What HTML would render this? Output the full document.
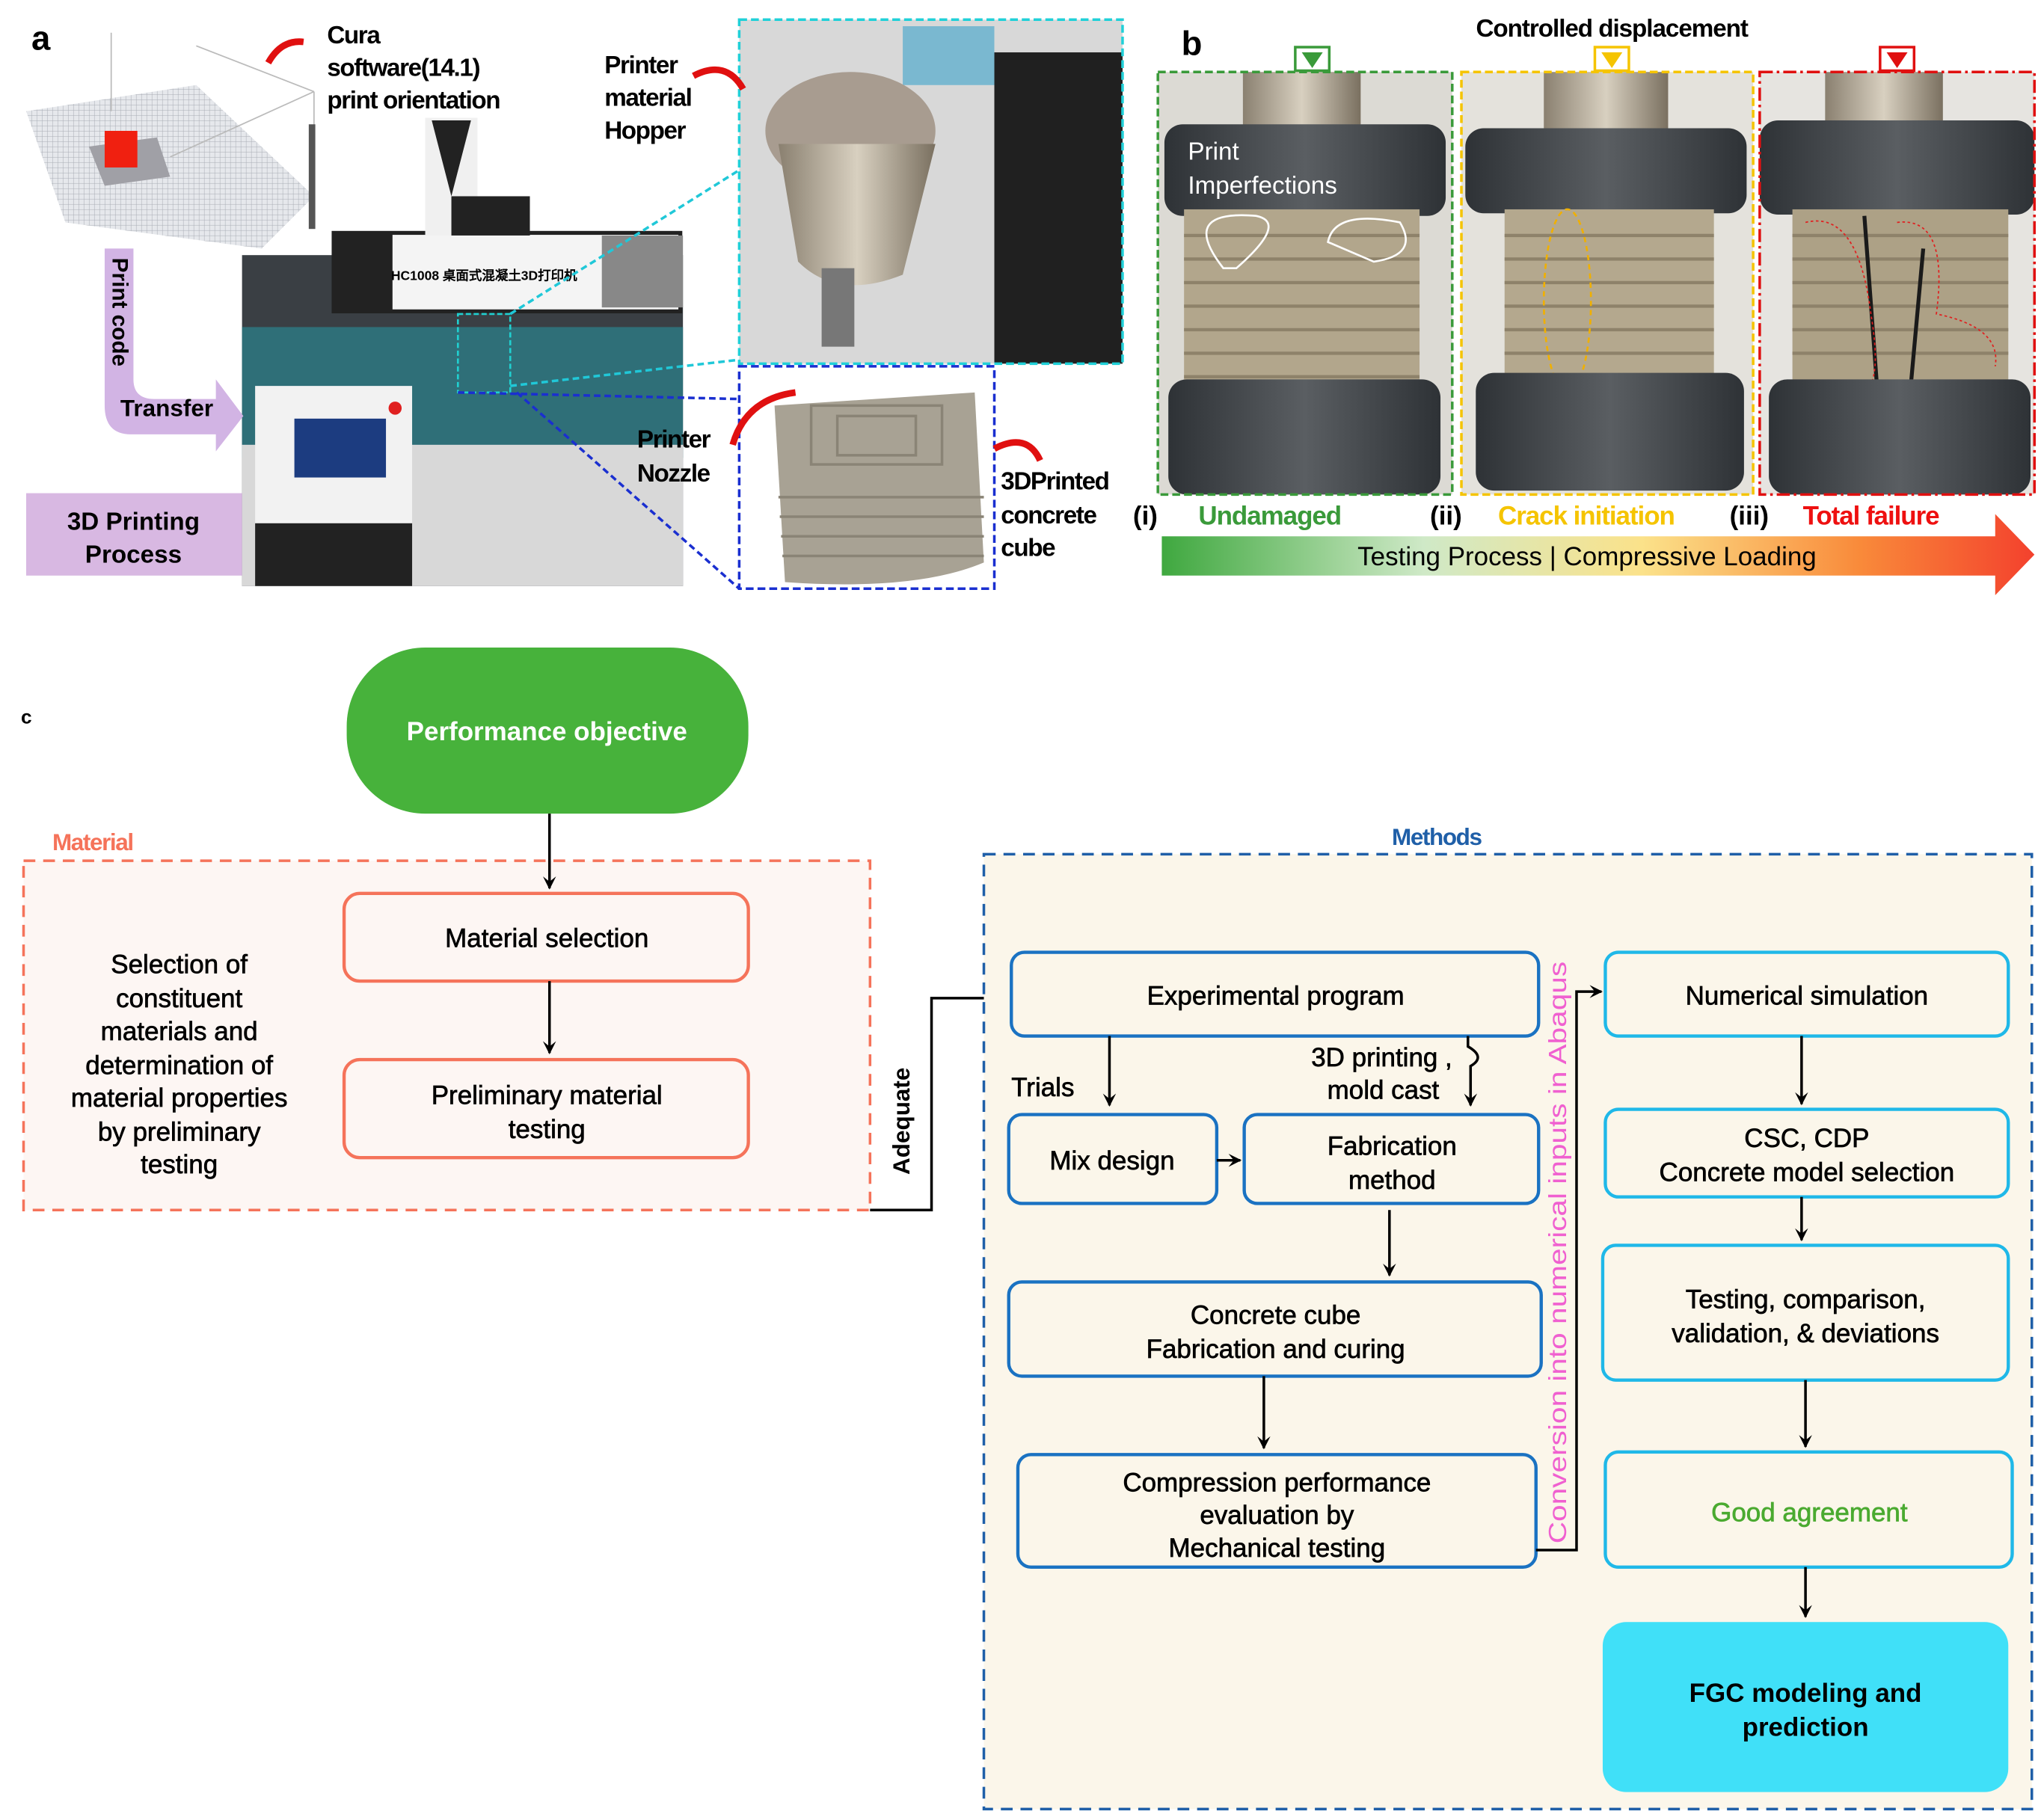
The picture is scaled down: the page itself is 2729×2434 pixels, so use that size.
<!DOCTYPE html>
<html><head><meta charset="utf-8"><style>
html,body{margin:0;padding:0;background:#fff;}
svg{display:block;}
text{font-family:"Liberation Sans",sans-serif;}
</style></head><body>
<svg width="2729" height="2434" viewBox="0 0 1560 1391.3" xmlns="http://www.w3.org/2000/svg">
<defs>
<marker id="ah" markerWidth="10" markerHeight="10" refX="9" refY="5" orient="auto" markerUnits="userSpaceOnUse">
<path d="M0,0 L10,5 L0,10 L4,5 z" fill="#000"/></marker>
<linearGradient id="tg" x1="0" x2="1" y1="0" y2="0">
<stop offset="0" stop-color="#3fa83f"/><stop offset="0.3" stop-color="#cfe9c7"/><stop offset="0.55" stop-color="#fbe28a"/><stop offset="0.8" stop-color="#f98a3a"/><stop offset="1" stop-color="#f3412d"/></linearGradient>
<linearGradient id="metal" x1="0" x2="1"><stop offset="0" stop-color="#8a8070"/><stop offset="0.5" stop-color="#d8d0c0"/><stop offset="1" stop-color="#7a7060"/></linearGradient>
<linearGradient id="dark" x1="0" x2="1"><stop offset="0" stop-color="#2e3236"/><stop offset="0.5" stop-color="#5a5e62"/><stop offset="1" stop-color="#2e3236"/></linearGradient>
<pattern id="grid" width="4" height="4" patternUnits="userSpaceOnUse"><rect width="4" height="4" fill="#e6e8ec"/><path d="M0,0H4M0,0V4" stroke="#a8acb4" stroke-width="0.6"/></pattern>
</defs>

<!-- ===== Panel a ===== -->
<text x="24" y="38" font-size="26" font-weight="bold">a</text>
<polygon points="20,85 150,65 240,150 200,190 50,170" fill="url(#grid)"/>
<polygon points="68,112 120,105 130,135 80,142" fill="#a0a0a6"/>
<rect x="80" y="100" width="25" height="28" fill="#f02010"/>
<line x1="150" y1="35" x2="240" y2="70" stroke="#bbb"/><line x1="240" y1="70" x2="240" y2="170" stroke="#bbb"/>
<line x1="85" y1="25" x2="85" y2="85" stroke="#bbb"/><line x1="130" y1="120" x2="240" y2="70" stroke="#bbb"/>
<rect x="236" y="95" width="5" height="80" fill="#555"/>
<path d="M205,48 Q215,30 232,32" stroke="#e01010" stroke-width="5" fill="none"/>
<text font-size="19" font-weight="bold" letter-spacing="-0.8"><tspan x="250" y="33">Cura</tspan><tspan x="250" y="58">software(14.1)</tspan><tspan x="250" y="83">print orientation</tspan></text>

<!-- machine -->
<rect x="185" y="195" width="337" height="253" fill="#3a3f44"/>
<rect x="185" y="250" width="337" height="100" fill="#2f6f78"/>
<rect x="185" y="340" width="337" height="108" fill="#d8d8d8"/>
<rect x="255" y="178" width="265" height="60" fill="#f4f4f4" stroke="#222" stroke-width="3"/>
<rect x="255" y="178" width="45" height="60" fill="#222"/>
<rect x="460" y="180" width="62" height="55" fill="#888"/>
<text x="370" y="214" font-size="10" font-family="Liberation Serif,'Noto Serif CJK SC',serif" text-anchor="middle" font-weight="bold">HC1008 桌面式混凝土3D打印机</text>
<rect x="325" y="90" width="40" height="90" fill="#f0f0f0"/><polygon points="330,92 360,92 345,150" fill="#222"/>
<rect x="345" y="150" width="60" height="30" fill="#222"/>
<rect x="195" y="295" width="120" height="153" fill="#f2f2f2"/>
<rect x="225" y="320" width="70" height="45" fill="#1c3c80"/>
<circle cx="302" cy="312" r="5" fill="#e02020"/>
<rect x="195" y="400" width="120" height="48" fill="#222"/>
<rect x="350" y="240" width="40" height="60" fill="none" stroke="#20d0d0" stroke-width="1.5" stroke-dasharray="4,2"/>
<line x1="390" y1="240" x2="565" y2="130" stroke="#20c8d8" stroke-width="2" stroke-dasharray="5,3"/>
<line x1="390" y1="295" x2="565" y2="275" stroke="#20c8d8" stroke-width="2" stroke-dasharray="5,3"/>
<line x1="350" y1="300" x2="565" y2="305" stroke="#1a2fd0" stroke-width="2" stroke-dasharray="5,3"/>
<line x1="395" y1="300" x2="565" y2="450" stroke="#1a2fd0" stroke-width="2" stroke-dasharray="5,3"/>

<!-- purple arrow -->
<path d="M80,190 H102 V290 Q102,305 118,305 H165 V290 L186,318 L165,345 V332 H100 Q80,332 80,310 Z" fill="#d2b4e4"/>
<text font-size="17" font-weight="bold" transform="translate(86,197) rotate(90)">Print code</text>
<text x="92" y="318" font-size="18" font-weight="bold">Transfer</text>
<rect x="20" y="377" width="165" height="63" fill="#d8b8e2"/>
<text font-size="19" text-anchor="middle" font-weight="bold"><tspan x="102" y="405">3D Printing</tspan><tspan x="102" y="430">Process</tspan></text>

<!-- hopper photo -->
<rect x="565" y="15" width="293" height="263" fill="#d8d8d8"/>
<rect x="760" y="40" width="98" height="238" fill="#202020"/>
<rect x="690" y="20" width="70" height="45" fill="#7ab8d0"/>
<ellipse cx="650" cy="100" rx="65" ry="45" fill="#a89c90"/>
<path d="M595,110 L610,200 Q640,230 690,210 L715,110 Z" fill="url(#metal)"/>
<rect x="628" y="205" width="25" height="60" fill="#777"/>
<rect x="565" y="15" width="293" height="263" fill="none" stroke="#20d0d8" stroke-width="2" stroke-dasharray="6,3"/>
<text font-size="19" font-weight="bold" letter-spacing="-0.8"><tspan x="462" y="56">Printer</tspan><tspan x="462" y="81">material</tspan><tspan x="462" y="106">Hopper</tspan></text>
<path d="M530,58 Q555,45 568,68" stroke="#e01010" stroke-width="5" fill="none"/>

<!-- cube photo -->
<rect x="565" y="280" width="195" height="170" fill="#fff"/>
<path d="M592,310 L745,300 L752,430 Q700,452 600,445 Z" fill="#a8a294"/>
<g stroke="#8a8476" stroke-width="2" fill="none">
<rect x="620" y="310" width="100" height="45"/><rect x="640" y="318" width="60" height="30"/>
<path d="M595,380 H752 M596,395 H752 M597,410 H752 M598,425 H752"/></g>
<rect x="565" y="280" width="195" height="170" fill="none" stroke="#1a2fd0" stroke-width="2" stroke-dasharray="6,3"/>
<text font-size="19" font-weight="bold" letter-spacing="-0.8"><tspan x="487" y="342">Printer</tspan><tspan x="487" y="368">Nozzle</tspan></text>
<path d="M560,340 Q570,305 608,300" stroke="#e01010" stroke-width="5" fill="none"/>
<text font-size="19" font-weight="bold" letter-spacing="-0.8"><tspan x="765" y="374">3DPrinted</tspan><tspan x="765" y="400">concrete</tspan><tspan x="765" y="425">cube</tspan></text>
<path d="M760,343 Q785,330 795,352" stroke="#e01010" stroke-width="5" fill="none"/>

<!-- ===== Panel b ===== -->
<text x="903" y="42" font-size="26" font-weight="bold">b</text>
<text x="1232" y="28" font-size="19" font-weight="bold" text-anchor="middle" letter-spacing="-0.6">Controlled displacement</text>
<g>
<rect x="885" y="55" width="225" height="323" fill="#dcdad4"/>
<rect x="950" y="55" width="90" height="45" fill="url(#metal)"/>
<rect x="890" y="95" width="215" height="70" rx="14" fill="url(#dark)"/>
<rect x="905" y="160" width="180" height="140" fill="#b2a68c"/>
<g stroke="#8e826a" stroke-width="2.5"><path d="M905,180H1085M905,198H1085M905,216H1085M905,234H1085M905,252H1085M905,270H1085M905,288H1085"/></g>
<rect x="893" y="290" width="208" height="88" rx="14" fill="url(#dark)"/>
<text font-size="19" fill="#fff"><tspan x="908" y="122">Print</tspan><tspan x="908" y="148">Imperfections</tspan></text>
<path d="M935,205 Q900,160 960,165 Q985,170 945,205 Z M1015,185 Q1020,160 1070,170 Q1085,195 1050,200 Z" fill="none" stroke="#fff" stroke-width="1.5"/>
<rect x="885" y="55" width="225" height="323" fill="none" stroke="#3a9a3a" stroke-width="2" stroke-dasharray="6,3"/>
<rect x="990" y="36" width="26" height="18" fill="none" stroke="#3a9a3a" stroke-width="2"/><path d="M995,40 L1011,40 L1003,52 Z" fill="#3a9a3a"/>
</g>
<g>
<rect x="1117" y="55" width="223" height="323" fill="#e4e2dc"/>
<rect x="1180" y="55" width="95" height="50" fill="url(#metal)"/>
<rect x="1120" y="98" width="215" height="65" rx="14" fill="url(#dark)"/>
<rect x="1150" y="160" width="160" height="135" fill="#b4a88e"/>
<g stroke="#8e826a" stroke-width="2.5"><path d="M1150,180H1310M1150,198H1310M1150,216H1310M1150,234H1310M1150,252H1310M1150,270H1310M1150,288H1310"/></g>
<ellipse cx="1198" cy="230" rx="18" ry="70" fill="none" stroke="#f0b000" stroke-width="1.5" stroke-dasharray="4,3"/>
<rect x="1128" y="285" width="205" height="90" rx="14" fill="url(#dark)"/>
<rect x="1117" y="55" width="223" height="323" fill="none" stroke="#f5c400" stroke-width="2" stroke-dasharray="6,3"/>
<rect x="1219" y="36" width="26" height="18" fill="none" stroke="#f5c400" stroke-width="2"/><path d="M1224,40 L1240,40 L1232,52 Z" fill="#f5c400"/>
</g>
<g>
<rect x="1345" y="55" width="210" height="323" fill="#e6e4e0"/>
<rect x="1395" y="55" width="90" height="45" fill="url(#metal)"/>
<rect x="1345" y="92" width="210" height="72" rx="14" fill="url(#dark)"/>
<rect x="1370" y="160" width="165" height="140" fill="#ada186"/>
<g stroke="#8e826a" stroke-width="2.5"><path d="M1370,180H1535M1370,198H1535M1370,216H1535M1370,234H1535M1370,252H1535M1370,270H1535"/></g>
<path d="M1425,165 L1435,300 M1470,190 L1460,300" stroke="#1a1a1a" stroke-width="3"/>
<path d="M1380,170 Q1420,160 1430,240 Q1440,300 1420,300 M1450,170 Q1490,165 1480,240 Q1530,250 1525,280" fill="none" stroke="#e02020" stroke-width="1" stroke-dasharray="2,2"/>
<rect x="1352" y="290" width="200" height="88" rx="14" fill="url(#dark)"/>
<rect x="1345" y="55" width="210" height="323" fill="none" stroke="#e01010" stroke-width="2" stroke-dasharray="10,3,2,3"/>
<rect x="1437" y="36" width="26" height="18" fill="none" stroke="#e01010" stroke-width="2"/><path d="M1442,40 L1458,40 L1450,52 Z" fill="#e01010"/>
</g>
<text font-size="20" font-weight="bold"><tspan x="866" y="401">(i)</tspan><tspan x="916" y="401" fill="#3a9a3a" letter-spacing="-0.6">Undamaged</tspan>
<tspan x="1093" y="401">(ii)</tspan><tspan x="1145" y="401" fill="#f5c400" letter-spacing="-0.6">Crack initiation</tspan>
<tspan x="1322" y="401">(iii)</tspan><tspan x="1378" y="401" fill="#ee1010" letter-spacing="-0.6">Total failure</tspan></text>
<polygon points="888,410 1525,410 1525,393 1555,424 1525,455 1525,440 888,440" fill="url(#tg)"/>
<text x="1213" y="432" font-size="20" text-anchor="middle">Testing Process | Compressive Loading</text>

<!-- ===== Panel c ===== -->
<text x="16" y="553" font-size="15" font-weight="bold">c</text>
<rect x="265" y="495" width="307" height="127" rx="60" ry="60" fill="#47b23b"/>
<text x="418" y="566" font-size="20" font-weight="bold" fill="#fff" text-anchor="middle">Performance objective</text>

<rect x="18" y="658" width="647" height="267" fill="#fdf6f3" stroke="#f5735a" stroke-width="2" stroke-dasharray="9,6"/>
<text x="40" y="650" font-size="18" font-weight="bold" fill="#f5735a" letter-spacing="-0.8">Material</text>
<line x1="420" y1="622" x2="420" y2="679" stroke="#000" stroke-width="2" marker-end="url(#ah)"/>
<rect x="263" y="683" width="309" height="67" rx="12" fill="#fdf6f3" stroke="#f5735a" stroke-width="2.5"/>
<line x1="420" y1="750" x2="420" y2="805" stroke="#000" stroke-width="2" marker-end="url(#ah)"/>
<rect x="263" y="810" width="309" height="75" rx="12" fill="#fdf6f3" stroke="#f5735a" stroke-width="2.5"/>
<g stroke="#000" stroke-width="0.4">
<text x="418" y="724" font-size="20" text-anchor="middle">Material selection</text>
<text font-size="20" text-anchor="middle"><tspan x="418" y="844">Preliminary material</tspan><tspan x="418" y="870">testing</tspan></text>
<text font-size="20" text-anchor="middle"><tspan x="137" y="744">Selection of</tspan><tspan x="137" y="770">constituent</tspan><tspan x="137" y="795">materials and</tspan><tspan x="137" y="821">determination of</tspan><tspan x="137" y="846">material properties</tspan><tspan x="137" y="872">by preliminary</tspan><tspan x="137" y="897">testing</tspan></text>
</g>
<text font-size="18" font-weight="bold" transform="translate(695,898) rotate(-90)">Adequate</text>
<polyline points="665,925 712,925 712,763 768,763" fill="none" stroke="#000" stroke-width="2" marker-end="url(#ah)"/>

<rect x="752" y="653" width="801" height="730" fill="#fbf6ea" stroke="#1f5fa8" stroke-width="2" stroke-dasharray="9,6"/>
<text x="1098" y="646" font-size="18" font-weight="bold" fill="#1f5fa8" text-anchor="middle" letter-spacing="-0.8">Methods</text>
<g fill="#fbf6ea" stroke="#1a72c2" stroke-width="2.5">
<rect x="773" y="728" width="403" height="64" rx="10"/>
<rect x="771" y="852" width="159" height="68" rx="10"/>
<rect x="951" y="852" width="225" height="68" rx="10"/>
<rect x="771" y="980" width="407" height="72" rx="10"/>
<rect x="778" y="1112" width="396" height="86" rx="10"/>
</g>
<g fill="#fbf6ea" stroke="#1fb8e8" stroke-width="2.5">
<rect x="1227" y="728" width="308" height="64" rx="10"/>
<rect x="1227" y="848" width="308" height="67" rx="10"/>
<rect x="1225" y="952" width="310" height="103" rx="10"/>
<rect x="1227" y="1110" width="311" height="88" rx="10"/>
</g>
<rect x="1225" y="1240" width="310" height="130" rx="18" fill="#40e0f8"/>
<g font-size="20" text-anchor="middle" stroke="#000" stroke-width="0.4">
<text x="975" y="768">Experimental program</text>
<text x="850" y="894">Mix design</text>
<text><tspan x="1064" y="883">Fabrication</tspan><tspan x="1064" y="909">method</tspan></text>
<text><tspan x="975" y="1012">Concrete cube</tspan><tspan x="975" y="1038">Fabrication and curing</tspan></text>
<text><tspan x="976" y="1140">Compression performance</tspan><tspan x="976" y="1165">evaluation by</tspan><tspan x="976" y="1190">Mechanical testing</tspan></text>
<text x="1381" y="768">Numerical simulation</text>
<text><tspan x="1381" y="877">CSC, CDP</tspan><tspan x="1381" y="903">Concrete model selection</tspan></text>
<text><tspan x="1380" y="1000">Testing, comparison,</tspan><tspan x="1380" y="1026">validation, &amp; deviations</tspan></text>
<text x="1383" y="1163" fill="#4aaa30" stroke="#4aaa30">Good agreement</text>
<text font-weight="bold" stroke="none"><tspan x="1380" y="1301">FGC modeling and</tspan><tspan x="1380" y="1327">prediction</tspan></text>
<text x="1110" y="815" text-anchor="end">3D printing ,</text>
<text x="1100" y="840" text-anchor="end">mold cast</text>
<text x="773" y="838" text-anchor="start">Trials</text>
</g>
<g stroke="#000" stroke-width="2" fill="none">
<line x1="848" y1="792" x2="848" y2="845" marker-end="url(#ah)"/>
<path d="M1122,792 V800 Q1136,808 1124,815 V845" marker-end="url(#ah)"/>
<line x1="930" y1="887" x2="948" y2="887" marker-end="url(#ah)"/>
<line x1="1062" y1="925" x2="1062" y2="975" marker-end="url(#ah)"/>
<line x1="966" y1="1052" x2="966" y2="1107" marker-end="url(#ah)"/>
<polyline points="1174,1185 1205,1185 1205,758 1224,758" marker-end="url(#ah)"/>
<line x1="1377" y1="792" x2="1377" y2="844" marker-end="url(#ah)"/>
<line x1="1377" y1="915" x2="1377" y2="948" marker-end="url(#ah)"/>
<line x1="1380" y1="1055" x2="1380" y2="1106" marker-end="url(#ah)"/>
<line x1="1380" y1="1198" x2="1380" y2="1236" marker-end="url(#ah)"/>
</g>
<text font-size="19" fill="#f060d0" transform="translate(1197,1180) rotate(-90)" textLength="445" lengthAdjust="spacingAndGlyphs">Conversion into numerical inputs in Abaqus</text>
</svg>
</body></html>
